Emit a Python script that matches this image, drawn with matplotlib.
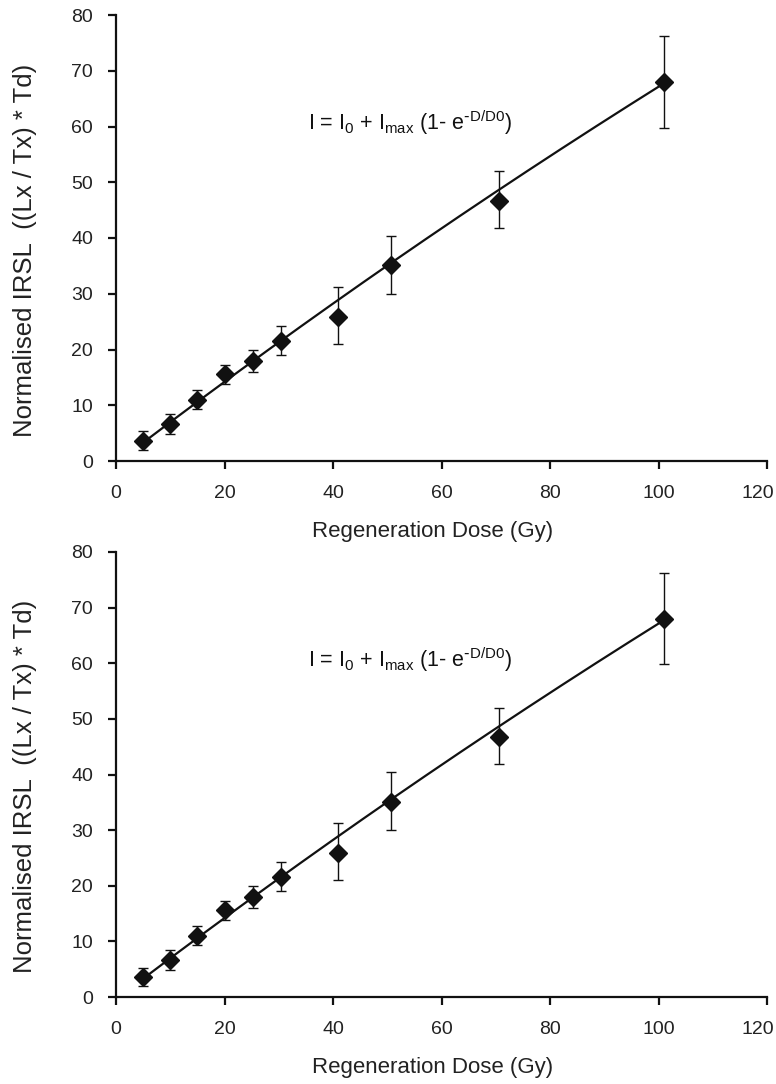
import numpy as np
import matplotlib
matplotlib.use("Agg")
import matplotlib.pyplot as plt
import matplotlib.transforms as mtransforms

plt.rcParams['font.family'] = ['Liberation Sans', 'DejaVu Sans']
plt.rcParams['mathtext.default'] = 'regular'

# Data
dose = [5.0, 10.0, 15.0, 20.0, 25.3, 30.5, 41.0, 50.7, 70.6, 101.0]
irsl = [3.6, 6.7, 11.0, 15.6, 18.0, 21.5, 25.8, 35.1, 46.7, 68.0]
err_low = [1.9, 4.8, 9.3, 13.8, 16.0, 19.0, 21.0, 30.0, 41.8, 59.8]
err_high = [5.3, 8.5, 12.8, 17.3, 20.0, 24.2, 31.2, 40.4, 52.0, 76.2]

# Fit parameters: I = I0 + Imax (1 - exp(-D/D0))
I0 = -0.41
Imax = 372.6
D0 = 500.0
fit_range = [5.0, 101.0]

xticks = [0, 20, 40, 60, 80, 100, 120]
yticks = [0, 10, 20, 30, 40, 50, 60, 70, 80]

fig = plt.figure(figsize=(7.76, 10.84), dpi=100)
W, H = 776, 1084
panels = [(15, 461), (552, 997)]

for top, bot in panels:
    ax = fig.add_axes([116 / W, 1 - bot / H, (767 - 116) / W, (bot - top) / H])
    d = np.array(dose)
    v = np.array(irsl)
    yerr = np.vstack([v - np.array(err_low), np.array(err_high) - v])
    xf = np.linspace(fit_range[0], fit_range[1], 200)
    yf = I0 + Imax * (1 - np.exp(-xf / D0))
    ax.plot(xf, yf, color='#111111', lw=1.6, zorder=2)
    ax.errorbar(d, v, yerr=yerr, fmt='none', ecolor='#111111', elinewidth=1.0,
                capsize=3.3, capthick=1.0, zorder=3)
    ax.plot(d, v, 'D', color='#111111', ms=9.3, zorder=4)

    ax.set_xlim(0, 120)
    ax.set_ylim(0, 80)
    ax.set_xticks(xticks)
    ax.set_yticks(yticks)
    for s in ['top', 'right']:
        ax.spines[s].set_visible(False)
    for s in ['left', 'bottom']:
        ax.spines[s].set_linewidth(1.6)
        ax.spines[s].set_color('#111111')
    ax.tick_params(direction='out', length=5.5, width=1.6, colors='#111111',
                   labelsize=14, pad=11)
    ax.tick_params(axis='x', pad=12)
    for lab in ax.get_yticklabels():
        lab.set_color('#222222')
    xl = ax.get_xticklabels()
    for lab in xl:
        lab.set_color('#222222')
    xl[-1].set_transform(xl[-1].get_transform() +
                         mtransforms.ScaledTranslation(-9 / 100, 0, fig.dpi_scale_trans))

    ax.set_xlabel('Regeneration Dose (Gy)', fontsize=16, color='#222222')
    ax.xaxis.set_label_coords(0.487, -0.135)
    ax.set_ylabel('Normalised IRSL  ((Lx / Tx) * Td)', fontsize=18.5, color='#222222')
    ax.yaxis.set_label_coords(-0.121, 0.473)
    ax.text(0.295, 0.758, r'I = I$_0$ + I$_{max}$ (1- e$^{\text{-}D/D0}$)', transform=ax.transAxes,
            fontsize=15.5, color='#111111', ha='left', va='center')

fig.savefig('out.png', dpi=100)
